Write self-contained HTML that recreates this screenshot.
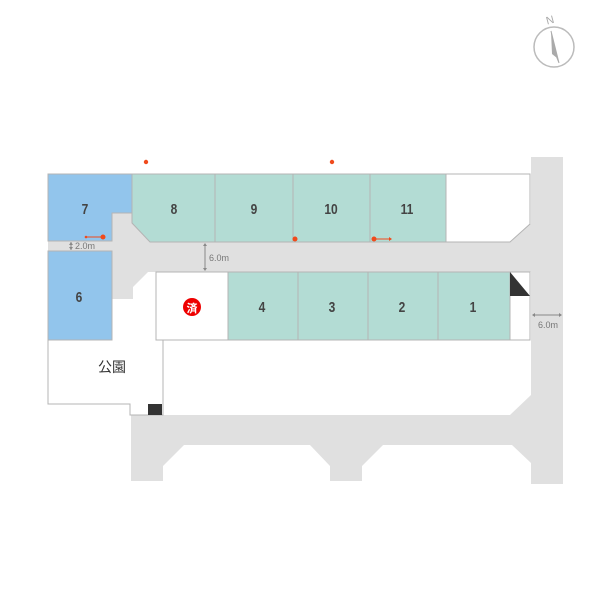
<!DOCTYPE html>
<html><head><meta charset="utf-8"><style>body{margin:0;background:#fff}svg{display:block}</style></head><body>
<svg width="600" height="600" viewBox="0 0 600 600" xmlns="http://www.w3.org/2000/svg" font-family="'Liberation Sans','Noto Sans CJK JP',sans-serif">
<g fill="#e0e0e0">
<rect x="531" y="157" width="32" height="327"/>
<rect x="48" y="241" width="483" height="10"/>
<polygon points="112,213 132,213 132,223 150,242 531,242 531,272 148,272 133,287 133,299 112,299"/>
<polygon points="530,224 531,224 531,242 510,242"/>
<polygon points="131,415 531,415 531,463 512,445 383,445 362,466 362,481 330,481 330,466 310,445 184,445 163,466 163,481 131,481"/>
<polygon points="510,415 531,395 531,415"/>
</g>
<g stroke="#b4b4b4" stroke-width="1">
<polygon points="48,174 132,174 132,213 112,213 112,241 48,241" fill="#92c5ec"/>
<rect x="48" y="251" width="64" height="89" fill="#92c5ec"/>
<polygon points="132,174 215,174 215,242 150,242 132,223" fill="#b3dcd4"/>
<rect x="215" y="174" width="78" height="68" fill="#b3dcd4"/>
<rect x="293" y="174" width="77" height="68" fill="#b3dcd4"/>
<rect x="370" y="174" width="76" height="68" fill="#b3dcd4"/>
<polygon points="446,174 530,174 530,224 510,242 446,242" fill="#fff"/>
<rect x="156" y="272" width="72" height="68" fill="#fff"/>
<rect x="228" y="272" width="70" height="68" fill="#b3dcd4"/>
<rect x="298" y="272" width="70" height="68" fill="#b3dcd4"/>
<rect x="368" y="272" width="70" height="68" fill="#b3dcd4"/>
<rect x="438" y="272" width="72" height="68" fill="#b3dcd4"/>
<rect x="510" y="272" width="20" height="68" fill="#fff"/>
<polyline points="48,340 48,404 130,404 130,415 163,415 163,340" fill="none"/>
</g>
<polygon points="510,272 530,296 510,296" fill="#333"/>
<rect x="148" y="404" width="14" height="11" fill="#333"/>
<g fill="#f04a1c">
<circle cx="146" cy="162" r="2.2"/><circle cx="332" cy="162" r="2.2"/>
<circle cx="103" cy="237" r="2.5"/><circle cx="295" cy="239" r="2.5"/><circle cx="374" cy="239" r="2.5"/>
</g>
<g stroke="#f04a1c" stroke-width="1" fill="none"><line x1="86" y1="237" x2="102" y2="237"/><line x1="375" y1="239" x2="389" y2="239"/></g>
<circle cx="86" cy="237" r="1.3" fill="#f04a1c"/><polygon points="389,237 392,239 389,241" fill="#f04a1c"/>
<g stroke="#888" stroke-width="1" fill="none">
<line x1="71" y1="242" x2="71" y2="250"/><line x1="205" y1="245" x2="205" y2="269"/><line x1="534" y1="315" x2="560" y2="315"/>
</g>
<g fill="#888">
<polygon points="69,245 71,242 73,245"/><polygon points="69,247 71,250 73,247"/>
<polygon points="203,246 205,243 207,246"/><polygon points="203,268 205,271 207,268"/>
<polygon points="535,313 532,315 535,317"/><polygon points="559,313 562,315 559,317"/>
</g>
<g fill="#777" font-size="9"><text x="75" y="249">2.0m</text><text x="209" y="261">6.0m</text><text x="538" y="328">6.0m</text></g>
<g fill="#444" font-size="15" font-weight="bold" text-anchor="middle">
<text transform="translate(85,214) scale(0.8,1)">7</text><text transform="translate(174,214) scale(0.8,1)">8</text><text transform="translate(254,214) scale(0.8,1)">9</text><text transform="translate(331,214) scale(0.8,1)">10</text><text transform="translate(407,214) scale(0.8,1)">11</text>
<text transform="translate(79,302) scale(0.8,1)">6</text><text transform="translate(262,312) scale(0.8,1)">4</text><text transform="translate(332,312) scale(0.8,1)">3</text><text transform="translate(402,312) scale(0.8,1)">2</text><text transform="translate(473,312) scale(0.8,1)">1</text>
</g>
<text x="112" y="372" font-size="14" fill="#333" text-anchor="middle">公園</text>
<circle cx="192" cy="307" r="9" fill="#e00"/>
<text x="192" y="312" font-size="11" fill="#fff" text-anchor="middle" font-weight="bold">済</text>
<circle cx="554" cy="47" r="20" fill="none" stroke="#bbb" stroke-width="1.5"/>
<polygon points="551,31 557,58 552,54" fill="#aaa"/>
<polygon points="551,31 557,58 559,63" fill="none" stroke="#aaa"/>
<text x="546" y="24" font-size="11" fill="#aaa" transform="rotate(-15 549 20)">N</text>
</svg>
</body></html>
